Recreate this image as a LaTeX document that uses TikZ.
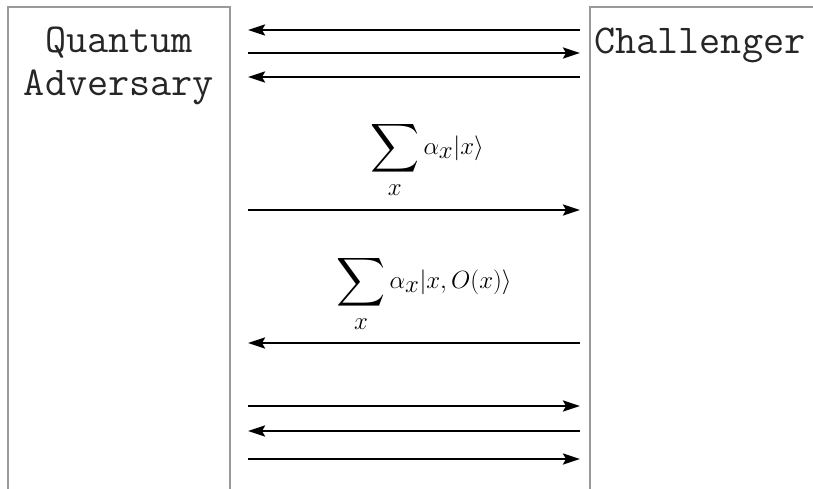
\documentclass[tikz,border=0pt]{standalone}
\usepackage{amsmath,amssymb}
\usepackage{fontspec}
\usetikzlibrary{arrows.meta,positioning}

\tikzset{
  party/.style={draw=black!40, line width=1.2pt, fill=white},
  partytext/.style={font=\fontsize{41}{43}\selectfont\ttfamily, text=black!85, align=center, inner sep=0pt},
  msg/.style={line width=2.6pt, -{Stealth[length=17pt,width=11pt,inset=3pt]}},
  qlabel/.style={font=\fontsize{34}{36}\selectfont, inner sep=0pt}
}

\begin{document}
\begin{tikzpicture}[x=1pt, y=-1pt]
  \useasboundingbox (0,0) rectangle (813,488);
  \clip (0,0) rectangle (813,488);

  % Spieler
  \draw[party] (8,7) rectangle (230,500);
  \draw[party] (590,7) rectangle (830,500);
  \node[partytext] (adv) at (119,66) {Quantum\\Adversary};
  \node[partytext, anchor=base west] (chal) at (594,53) {Challenger};

  % Nachrichten: y / Richtung (1 = nach rechts)
  \foreach \y/\d [count=\i] in {30/0,53/1,77/0,210/1,343/0,406/1,431/0,459/1} {
    \coordinate (l\i) at (248,\y);
    \coordinate (r\i) at (580,\y);
    \ifnum\d=1
      \draw[msg] (l\i) -- (r\i);
    \else
      \draw[msg] (r\i) -- (l\i);
    \fi
  }

  % Anfrage und Antwort
  \node[qlabel] (query) at (427,160) {$\displaystyle\sum_x \alpha_x\lvert x\rangle$};
  \node[qlabel] (answer) at (424,294) {$\displaystyle\sum_x \alpha_x\lvert x, O(x)\rangle$};
\end{tikzpicture}
\end{document}
